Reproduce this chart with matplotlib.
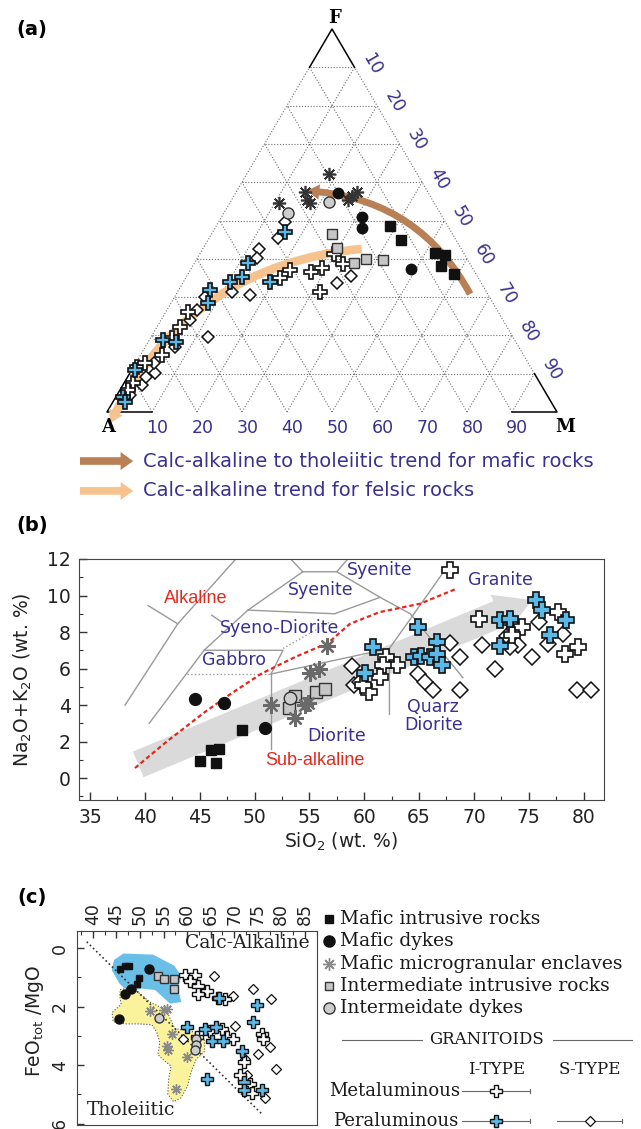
import numpy as np
import matplotlib.pyplot as plt
from matplotlib.patches import Polygon
from matplotlib.ticker import MultipleLocator

# --- colours ---
PURPLE = '#3b3090'
BROWN = '#b97f55'
PEACH = '#f6c28e'
SKY = '#5ab8e6'
LEMON = '#fbf29c'
RED = '#e5281d'

# --- (a) AFM ternary: F and M in %, A = 100 - F - M ---
a_mafic_intr_F = [48.6, 44.9, 41.6, 41.0, 38.1, 36.0]
a_mafic_intr_M = [38.6, 42.8, 52.1, 54.6, 55.1, 59.0]
a_mafic_dyke_F = [57.1, 51.0, 48.0, 37.3]
a_mafic_dyke_M = [22.8, 31.1, 32.6, 48.8]
a_encl_F = [62.1, 57.5, 55.4, 54.6, 54.6, 55.4, 57.5, 56.4]
a_encl_M = [18.3, 15.3, 16.8, 17.8, 11.0, 25.9, 26.9, 26.3]
a_int_intr_F = [46.4, 42.9, 38.9, 39.9, 39.7]
a_int_intr_M = [26.9, 29.7, 35.4, 37.7, 41.4]
a_int_dyke_F = [54.9, 52.0]
a_int_dyke_M = [21.9, 14.2]
a_met_F = [41.3, 38.6, 37.7, 36.6, 37.1, 34.9, 31.4, 7.5, 11.8, 12.7, 14.9, 19.2, 22.3, 26.2, 5.7]
a_met_M = [29.8, 33.2, 28.9, 27.0, 22.1, 20.9, 31.7, 2.1, 0.7, 2.1, 4.7, 4.8, 5.1, 5.0, 1.8]
a_per_F = [4.0, 11.0, 18.8, 31.9, 28.4, 34.0, 35.3, 38.8, 34.0, 47.1, 18.3, 2.6]
a_per_M = [1.6, 0.7, 3.1, 7.0, 8.3, 10.4, 12.3, 12.0, 19.2, 16.0, 6.2, 2.7]
a_st_F = [49.7, 45.4, 42.5, 40.1, 30.5, 33.8, 35.5, 19.7, 7.0, 10.1, 24.0, 26.6, 30.1, 31.4,
          12.7, 4.4, 9.1, 17.0]
a_st_M = [14.6, 15.4, 12.6, 13.2, 16.6, 34.3, 36.4, 12.7, 4.2, 5.6, 6.5, 6.7, 6.8, 12.0,
          4.0, 2.9, 4.1, 6.6]
# trend arrows (x = M + F/2, y = F): start, tip
trend_mafic = [(80.7, 30.8), (44.4, 57.7)]
trend_felsic = [(56.6, 42.6), (0.7, -2.9)]

# --- (b) TAS: SiO2, Na2O+K2O ---
b_mafic_intr_x = [48.9, 46.0, 46.8, 45.0, 46.5]
b_mafic_intr_y = [2.64, 1.54, 1.60, 0.96, 0.82]
b_mafic_dyke_x = [44.6, 47.2, 51.0]
b_mafic_dyke_y = [4.31, 4.12, 2.73]
b_encl_x = [56.6, 55.1, 55.9, 51.5, 54.6, 54.9, 53.7]
b_encl_y = [7.22, 5.73, 5.95, 4.00, 4.00, 4.09, 3.27]
b_int_intr_x = [53.1, 53.7, 55.6, 56.4]
b_int_intr_y = [3.85, 4.50, 4.72, 4.90]
b_int_dyke_x = [53.2]
b_int_dyke_y = [4.38]
b_met_x = [67.8, 70.5, 73.3, 74.35, 77.7, 78.3, 79.5, 62.0, 62.95, 61.7, 61.4, 60.4, 59.9, 73.5]
b_met_y = [11.4, 8.73, 8.55, 8.27, 9.09, 6.82, 7.18, 6.63, 6.18, 6.18, 5.54, 4.72, 5.09, 7.82]
b_per_x = [60.8, 60.1, 64.9, 66.6, 64.5, 65.2, 66.0, 66.6, 67.05, 72.4, 73.3, 72.4, 75.7, 76.2,
           76.9, 78.4]
b_per_y = [7.18, 5.73, 8.27, 7.45, 6.63, 6.67, 6.63, 6.82, 6.18, 8.64, 8.73, 7.24, 9.77, 9.18,
           7.82, 8.64]
b_st_x = [58.9, 59.1, 59.6, 64.9, 65.5, 66.3, 67.8, 68.7, 68.7, 70.7, 71.9, 73.0, 74.0, 75.3,
          75.9, 76.8, 78.1, 79.4, 80.7, 73.3]
b_st_y = [6.13, 5.09, 5.27, 5.69, 5.27, 4.82, 7.40, 6.63, 4.82, 7.27, 6.00, 7.76, 7.27, 6.63,
          8.55, 7.36, 7.91, 4.82, 4.82, 7.18]
# alkaline / sub-alkaline divide
div_x = [39.1, 42.0, 45.5, 47.9, 50.65, 53.7, 56.7, 58.7, 61.4, 65.1, 68.4]
div_y = [0.55, 2.0, 3.63, 4.64, 5.73, 6.63, 7.4, 8.45, 9.09, 9.55, 10.37]
# trend band: start, tip
trend_b = [(39.4, 0.75), (75.3, 9.75)]
# TAS field boundaries
tas_solid = [
    ([38.2, 43.0, 48.3], [4.0, 8.45, 12.0]),
    ([40.3, 43.0], [9.45, 8.45]),
    ([40.4, 45.4, 49.4, 54.4, 53.3], [3.0, 7.0, 9.2, 11.3, 12.0]),
    ([54.4, 57.5, 58.5], [11.3, 11.3, 12.0]),
    ([57.5, 61.45, 64.2, 69.0], [11.3, 9.9, 9.0, 5.5]),
    ([49.4, 57.3, 61.45], [9.2, 9.0, 9.9]),
    ([45.4, 52.6, 51.5], [7.0, 7.0, 5.7]),
    ([51.5, 62.3], [5.7, 7.1]),
    ([51.5, 51.5], [5.7, 1.6]),
    ([62.3, 62.3, 67.6], [3.5, 7.1, 11.6]),
    ([46.1, 47.0], [8.92, 8.55]),
]
tas_dotted = [
    ([43.8, 51.5], [5.7, 5.7]),
    ([52.6, 57.0], [7.1, 8.6]),
]

# --- (c) SiO2 vs FeOtot/MgO ---
c_mafic_intr_x = [45.8, 46.8, 47.7, 49.7, 49.3]
c_mafic_intr_y = [0.71, 0.62, 0.62, 1.02, 1.21]
c_mafic_dyke_x = [51.9, 48.0, 46.8, 45.6]
c_mafic_dyke_y = [0.71, 1.39, 1.58, 2.41]
c_encl_x = [52.1, 55.7, 55.2, 56.7, 55.7, 56.0, 59.9, 57.7]
c_encl_y = [2.15, 2.07, 2.11, 2.94, 3.34, 3.50, 3.73, 4.83]
c_int_intr_x = [53.9, 55.0, 57.2, 57.2]
c_int_intr_y = [0.96, 1.05, 1.07, 1.39]
c_int_dyke_x = [54.1, 61.8, 61.8, 61.7]
c_int_dyke_y = [2.40, 3.11, 3.31, 3.47]
c_met_x = [59.6, 61.7, 60.6, 62.4, 64.2, 66.6, 68.1, 62.4, 67.4, 68.4, 69.8, 62.1, 64.9, 75.9,
           76.2, 72.0, 71.2, 73.4, 73.7]
c_met_y = [0.91, 0.91, 1.13, 1.30, 1.47, 1.69, 1.75, 1.58, 2.77, 3.05, 3.11, 3.05, 2.83, 2.94,
           3.11, 3.90, 4.35, 4.63, 4.97]
c_per_x = [66.8, 74.8, 73.9, 59.9, 63.8, 66.2, 65.2, 67.7, 64.2, 71.6, 72.0, 72.1, 75.9]
c_per_y = [1.69, 1.96, 2.51, 2.71, 2.77, 2.71, 3.17, 3.17, 4.46, 3.51, 4.58, 4.86, 4.86]
c_st_x = [65.7, 69.8, 73.9, 77.8, 70.2, 59.2, 76.2, 77.6, 75.1, 78.9, 72.3, 72.7, 76.6]
c_st_y = [0.94, 1.62, 1.41, 1.73, 2.66, 3.11, 3.00, 3.39, 3.62, 4.15, 3.79, 4.35, 5.14]
miya_x = [38.7, 76.1]
miya_y = [-0.22, 5.71]
calc_field_x = [44.5, 46.5, 52.8, 57.3, 58.8, 58.0, 58.8, 56.4, 53.2, 50.4, 47.5, 45.6, 44.0]
calc_field_y = [0.40, 0.18, 0.22, 0.60, 0.96, 1.36, 1.84, 1.90, 1.43, 1.38, 1.50, 1.20, 0.74]
thol_field_x = [45.8, 48.3, 50.0, 52.1, 55.7, 56.4, 57.4, 61.3, 63.7, 63.7, 61.9, 60.8, 60.1,
                58.7, 57.1, 55.9, 56.1, 56.6, 55.2, 53.8, 54.2, 53.5, 52.5, 50.0, 46.8, 44.3,
                44.1, 46.0, 45.7]
thol_field_y = [1.42, 1.34, 1.56, 1.84, 2.13, 2.41, 2.75, 2.86, 3.15, 3.53, 3.81, 4.26, 4.71,
                5.12, 5.25, 4.99, 4.46, 4.03, 3.86, 3.64, 3.22, 2.85, 2.62, 2.59, 2.59, 2.51,
                2.20, 1.92, 1.62]

# --- marker styles ---
STY = {
    'mi': dict(marker='s', mfc='#111111', mec='#111111', mew=1.0),
    'md': dict(marker='o', mfc='#111111', mec='#111111', mew=1.0),
    'en': dict(marker=(8, 2, 0), mfc='none', mew=1.2),
    'ii': dict(marker='s', mfc='#c6c6c6', mec='#333333', mew=1.0),
    'id': dict(marker='o', mfc='#cdcdcd', mec='#333333', mew=1.0),
    'met': dict(marker='P', mfc='white', mec='#111111', mew=1.2),
    'per': dict(marker='P', mfc=SKY, mec='#111111', mew=1.2),
    'st': dict(marker='D', mfc='white', mec='#111111', mew=1.1),
}


def pts(ax, x, y, kind, ms, **kw):
    st = dict(STY[kind])
    st.update(kw)
    ax.plot(x, y, ls='none', ms=ms, zorder=4, clip_on=False, **st)


W, H = 641, 1129
fig = plt.figure(figsize=(W / 100, H / 100), dpi=100)


def box(x0, y0, x1, y1):
    return [x0 / W, 1 - y1 / H, (x1 - x0) / W, (y1 - y0) / H]


def tern(F, M):
    F = np.asarray(F, float)
    M = np.asarray(M, float)
    return M + F / 2, F


# ================= (a) =================
axA = fig.add_axes(box(107, 29, 557, 412))
axA.set_xlim(0, 100)
axA.set_ylim(0, 100)
axA.axis('off')

dots = dict(color='#707070', lw=0.8, ls=(0, (1, 1.6)), clip_on=False, zorder=1)
for v in range(10, 100, 10):
    axA.plot(*tern([v, v], [0, 100 - v]), **dots)
    axA.plot(*tern([0, 100 - v], [v, v]), **dots)
    axA.plot(*tern([0, 100 - v], [100 - v, 0]), **dots)
axA.plot(*tern([10, 90], [0, 0]), **dots)
axA.plot(*tern([10, 90], [90, 10]), **dots)
solid = dict(color='black', lw=1.1, clip_on=False, zorder=2)
axA.plot(*tern([90, 100, 90], [0, 0, 10]), **solid)
axA.plot(*tern([10, 0, 0], [0, 0, 10]), **solid)
axA.plot(*tern([0, 0, 10], [90, 100, 90]), **solid)

for v in range(10, 100, 10):
    x, y = tern(0, v)
    axA.text(x + 1.2, -4.3, str(v), ha='center', va='center', color=PURPLE, fontsize=12.5)
    x, y = tern(100 - v, v)
    axA.text(x + 3.8, y + 0.9, str(v), rotation=-60, ha='center', va='center',
             color=PURPLE, fontsize=12.5)
corner = dict(ha='center', va='center', fontsize=13, fontweight='bold', family='DejaVu Serif')
axA.text(50.5, 102.8, 'F', **corner)
axA.text(0.3, -3.9, 'A', **corner)
axA.text(101.8, -3.9, 'M', **corner)

for (p0, p1), col, tw in [(trend_mafic, BROWN, 0.5), (trend_felsic, PEACH, 0.62)]:
    axA.annotate('', xy=p1, xytext=p0, annotation_clip=False, zorder=2,
                 arrowprops=dict(arrowstyle=f'simple,head_width=1.1,head_length=0.9,tail_width={tw}',
                                 mutation_scale=10, fc=col, ec='none', shrinkA=0, shrinkB=0,
                                 connectionstyle='arc3,rad=0.28'))

pts(axA, *tern(a_st_F, a_st_M), 'st', 6.2)
pts(axA, *tern(a_met_F, a_met_M), 'met', 9.5)
pts(axA, *tern(a_per_F, a_per_M), 'per', 9.5)
pts(axA, *tern(a_int_intr_F, a_int_intr_M), 'ii', 7.5)
pts(axA, *tern(a_int_dyke_F, a_int_dyke_M), 'id', 8)
pts(axA, *tern(a_mafic_intr_F, a_mafic_intr_M), 'mi', 6.8)
pts(axA, *tern(a_mafic_dyke_F, a_mafic_dyke_M), 'md', 7.5)
pts(axA, *tern(a_encl_F, a_encl_M), 'en', 9.5, mec='#333333')

# legend of trends
leg_y = [-12.8, -20.6]
for yy, col, txt in [(leg_y[0], BROWN, 'Calc-alkaline to tholeiitic trend for mafic rocks'),
                     (leg_y[1], PEACH, 'Calc-alkaline trend for felsic rocks')]:
    axA.annotate('', xy=(5.8, yy), xytext=(-6.0, yy), annotation_clip=False,
                 arrowprops=dict(arrowstyle='simple,head_width=1.3,head_length=0.9,tail_width=0.55',
                                 mutation_scale=10, fc=col, ec='none', shrinkA=0, shrinkB=0))
    axA.text(8.0, yy, txt, ha='left', va='center', color=PURPLE, fontsize=14)

fig.text(32 / W, 1 - 29 / H, '(a)', ha='center', va='center', fontsize=14, fontweight='bold')

# ================= (b) =================
axB = fig.add_axes(box(79, 559, 604, 800))
axB.set_xlim(34.0, 81.86)
axB.set_ylim(-1.2, 12)
axB.xaxis.set_major_locator(MultipleLocator(5))
axB.xaxis.set_minor_locator(MultipleLocator(2.5))
axB.yaxis.set_major_locator(MultipleLocator(2))
axB.yaxis.set_minor_locator(MultipleLocator(1))
axB.tick_params(which='both', direction='in', top=False, right=False, labelsize=13.5,
                colors='#333333', labelcolor='#222222', pad=6)
axB.tick_params(which='major', length=6, width=1)
axB.tick_params(which='minor', length=3, width=0.8)
for s in axB.spines.values():
    s.set_color('#444444')

axB.annotate('', xy=trend_b[1], xytext=trend_b[0], zorder=1,
             arrowprops=dict(arrowstyle='simple,head_width=1.5,head_length=1.3,tail_width=1.0',
                             mutation_scale=20, fc='#dadada', ec='none', shrinkA=0, shrinkB=0))
for xs, ys in tas_solid:
    axB.plot(xs, ys, color='#9a9a9a', lw=1.0, zorder=2)
for xs, ys in tas_dotted:
    axB.plot(xs, ys, color='#9a9a9a', lw=1.0, ls=':', zorder=2)
axB.plot(div_x, div_y, color=RED, lw=1.6, ls=(0, (2, 1.3)), zorder=3)

for txt, x, y in [('Alkaline', 44.6, 9.82), ('Sub-alkaline', 55.5, 0.95)]:
    axB.text(x, y, txt, color=RED, fontsize=13, family='Liberation Sans', ha='center', va='center')
for txt, x, y in [('Syenite', 56.0, 10.3), ('Syenite', 61.4, 11.4), ('Granite', 72.4, 10.85),
                  ('Syeno-Diorite', 52.3, 8.2), ('Gabbro', 48.1, 6.45), ('Diorite', 57.5, 2.3),
                  ('Quarz\nDiorite', 66.3, 3.4)]:
    axB.text(x, y, txt, color=PURPLE, fontsize=12.5, ha='center', va='center', linespacing=1.0)

pts(axB, b_st_x, b_st_y, 'st', 8.2)
pts(axB, b_met_x, b_met_y, 'met', 11)
pts(axB, b_per_x, b_per_y, 'per', 11)
pts(axB, b_int_intr_x, b_int_intr_y, 'ii', 8)
pts(axB, b_int_dyke_x, b_int_dyke_y, 'id', 9)
pts(axB, b_mafic_intr_x, b_mafic_intr_y, 'mi', 7)
pts(axB, b_mafic_dyke_x, b_mafic_dyke_y, 'md', 8.5)
pts(axB, b_encl_x, b_encl_y, 'en', 12, mec='#6a6a6a', mew=1.6)

axB.set_xlabel('SiO$_2$ (wt. %)', fontsize=13.5, color='#222222')
axB.xaxis.set_label_coords(0.5, (800 - 831) / 241)
axB.set_ylabel('Na$_2$O+K$_2$O (wt. %)', fontsize=13.5, color='#222222')
axB.yaxis.set_label_coords((34 - 79) / 525, 0.5)
fig.text(32 / W, 1 - 526 / H, '(b)', ha='center', va='center', fontsize=14, fontweight='bold')

# ================= (c) =================
axC = fig.add_axes(box(77.3, 930.7, 316.7, 1125))
axC.set_xlim(36.7, 87.5)
axC.set_ylim(6.05, -0.6)
axC.xaxis.set_ticks_position('top')
axC.xaxis.set_major_locator(MultipleLocator(5))
axC.xaxis.set_minor_locator(MultipleLocator(2.5))
axC.yaxis.set_major_locator(MultipleLocator(2))
axC.yaxis.set_minor_locator(MultipleLocator(1))
axC.tick_params(axis='x', which='both', direction='in', top=True, bottom=False,
                labeltop=True, labelbottom=False, labelrotation=90, pad=4)
axC.tick_params(axis='y', which='both', direction='in', right=False, labelrotation=90, pad=6)
axC.tick_params(which='both', labelsize=12.5, colors='#333333', labelcolor='#222222')
axC.tick_params(which='major', length=5, width=1)
axC.tick_params(which='minor', length=3, width=0.8)
for lab in axC.get_yticklabels():
    lab.set_va('center')
for s in axC.spines.values():
    s.set_color('#444444')

axC.add_patch(Polygon(np.column_stack([calc_field_x, calc_field_y]), closed=True,
                      fc=SKY, ec='none', alpha=0.9, zorder=1))
axC.add_patch(Polygon(np.column_stack([thol_field_x, thol_field_y]), closed=True,
                      fc=LEMON, ec='#555555', lw=0.8, ls=':', zorder=1))
axC.plot(miya_x, miya_y, color='#333333', lw=1.2, ls=':', zorder=2)

axC.text(0.97, 0.935, 'Calc-Alkaline', transform=axC.transAxes, ha='right', va='center',
         fontsize=13.5, family='DejaVu Serif', color='#222222')
axC.text(0.04, 0.075, 'Tholeiitic', transform=axC.transAxes, ha='left', va='center',
         fontsize=13.5, family='DejaVu Serif', color='#222222')

pts(axC, c_st_x, c_st_y, 'st', 5.5, mew=0.9)
pts(axC, c_met_x, c_met_y, 'met', 8.5, mew=1.0)
pts(axC, c_per_x, c_per_y, 'per', 8.5, mew=1.0)
pts(axC, c_int_intr_x, c_int_intr_y, 'ii', 5.5)
pts(axC, c_int_dyke_x, c_int_dyke_y, 'id', 6.5)
pts(axC, c_mafic_intr_x, c_mafic_intr_y, 'mi', 4.5)
pts(axC, c_mafic_dyke_x, c_mafic_dyke_y, 'md', 6.5)
pts(axC, c_encl_x, c_encl_y, 'en', 7.5, mec='#8a8a8a', mew=1.0)

axC.set_ylabel('FeO$_{\\mathrm{tot}}$ /MgO', fontsize=13.5, color='#222222')
axC.yaxis.set_label_coords((46 - 77.3) / 239.4, 0.535)
fig.text(32 / W, 1 - 898 / H, '(c)', ha='center', va='center', fontsize=14, fontweight='bold')

# legend block for (c), laid out in pixel units
axL = fig.add_axes(box(320, 880, 641, 1129))
axL.set_xlim(320, 641)
axL.set_ylim(1129, 880)
axL.axis('off')
leg_rows = [('mi', 'Mafic intrusive rocks', 6.0),
            ('md', 'Mafic dykes', 8.0),
            ('en', 'Mafic microgranular enclaves', 9.0),
            ('ii', 'Intermediate intrusive rocks', 6.0),
            ('id', 'Intermeidate dykes', 8.0)]
row_y = [919, 941, 963.5, 986, 1008]
for (kind, label, ms), yy in zip(leg_rows, row_y):
    extra = dict(mec='#8a8a8a', mew=1.0) if kind == 'en' else {}
    pts(axL, [329], [yy], kind, ms, **extra)
    axL.text(340, yy, label, ha='left', va='center', fontsize=13.5, family='DejaVu Serif',
             color='#1a1a1a')

lc = dict(color='#666666', lw=0.8, clip_on=False)
axL.plot([342, 422], [1040, 1040], **lc)
axL.plot([553, 632], [1040, 1040], **lc)
axL.text(487, 1040, 'GRANITOIDS', ha='center', va='center', fontsize=12, family='DejaVu Serif',
         color='#1a1a1a')
axL.text(497, 1070, 'I-TYPE', ha='center', va='center', fontsize=12, family='DejaVu Serif',
         color='#1a1a1a')
axL.text(590, 1070, 'S-TYPE', ha='center', va='center', fontsize=12, family='DejaVu Serif',
         color='#1a1a1a')
axL.text(460, 1091, 'Metaluminous', ha='right', va='center', fontsize=13, family='DejaVu Serif',
         color='#1a1a1a')
axL.text(458, 1121, 'Peraluminous', ha='right', va='center', fontsize=13, family='DejaVu Serif',
         color='#1a1a1a')
for x0, x1, yy in [(462, 530, 1091), (462, 530, 1121), (557, 622, 1121)]:
    axL.plot([x0, x1], [yy, yy], **lc)
    axL.plot([x1, x1], [yy - 2, yy + 2], **lc)
pts(axL, [496], [1091], 'met', 8.5, mew=1.0)
pts(axL, [496], [1121], 'per', 8.5, mew=1.0)
pts(axL, [590], [1121], 'st', 5.5, mew=0.9)

fig.savefig('out.png', dpi=100)
